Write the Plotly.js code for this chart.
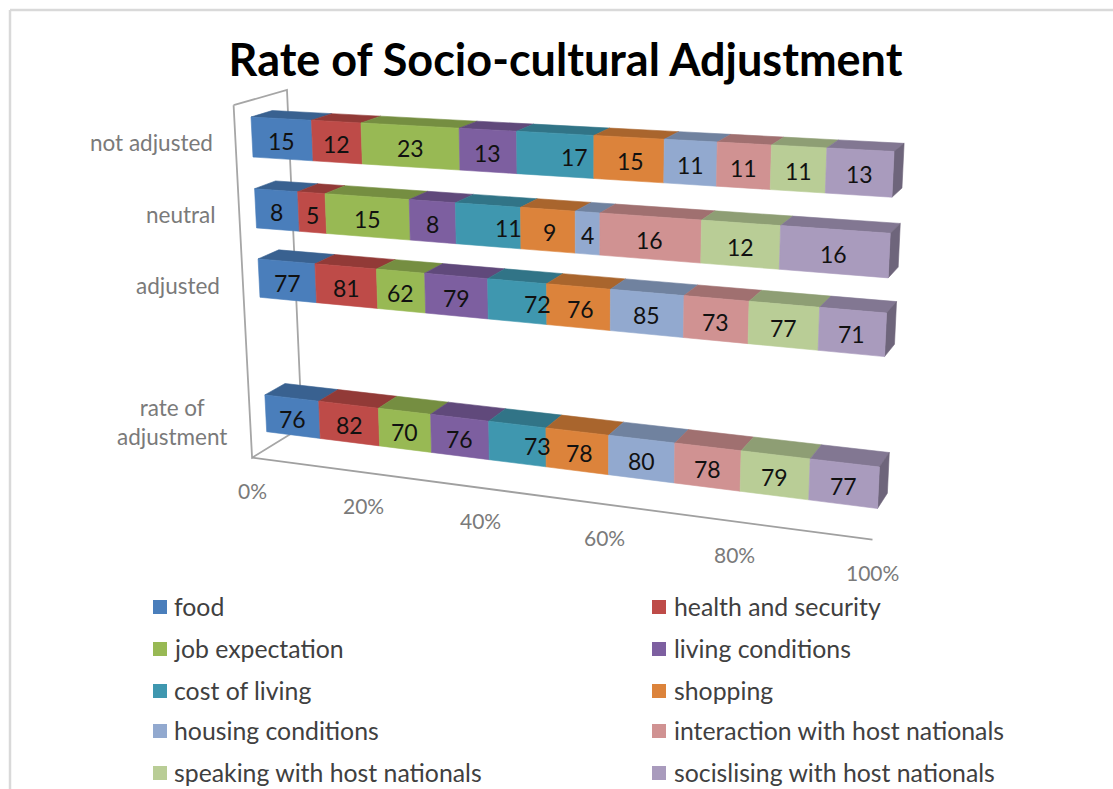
<!DOCTYPE html>
<html><head><meta charset="utf-8">
<script src="https://cdn.plot.ly/plotly-3.0.1.min.js"></script>
<style>html,body{margin:0;padding:0;background:#fff}#c{width:1113px;height:789px}</style></head>
<body><div id="c"></div>
<script>
// ---- data ----
const rowNames=["rate of<br>adjustment","","adjusted","neutral","not adjusted"];
const seriesNames=["food","health and security","job expectation","living conditions","cost of living","shopping","housing conditions","interaction with host nationals","speaking with host nationals","socislising with host nationals"];
const food=[76,null,77,8,15];
const health=[82,null,81,5,12];
const job=[70,null,62,15,23];
const living=[76,null,79,8,13];
const cost=[73,null,72,11,17];
const shopping=[78,null,76,9,15];
const housing=[80,null,85,4,11];
const interaction=[78,null,73,16,11];
const speaking=[79,null,77,12,11];
const socialising=[77,null,71,16,13];
const allSeries=[food,health,job,living,cost,shopping,housing,interaction,speaking,socialising];
const colors=["#4A7EBB","#BE4B48","#98B954","#7D5FA0","#3F97AF","#DC833B","#92A9CF","#D09292","#B9CD96","#A99BBD"];
const ticks=[0,20,40,60,80,100];
// label offset of each series, as the original chart places them
const labelShiftX=[0,0,0,0,20,2,0,0,0,0];

// ---- 3D view: (u share 0..1, t height 0..1, d depth) -> page position ----
const O=[266.7,431.7],U=[877.5,508.5],T=[251,117],D=[286.7,419.7];
const a=-0.123,b=-0.047,c=0.0189;
function proj(u,t,d){
  const w=1+a*u+b*t+c*d;
  return [0,1].map(n=>(O[n]+u*(U[n]*(1+a)-O[n])+t*(T[n]*(1+b)-O[n])+d*(D[n]*(1+c)-O[n]))/w);
}
const pitch=0.2195,barH=0.122;
const floorT=-0.055,topT=1.05,nearD=-0.75,farD=1.75,floorU=1.005;

function shade(hex,f){const n=parseInt(hex.slice(1),16);const v=[n>>16,(n>>8)&255,n&255].map(x=>Math.round(x*f));return `rgb(${v[0]},${v[1]},${v[2]})`;}
function poly(pts,bag){pts.forEach(p=>{bag.x.push(p[0]);bag.y.push(p[1]);});bag.x.push(pts[0][0],null);bag.y.push(pts[0][1],null);}

const traces=[],ann=[],shp=[];
const fill=(bag,col,name)=>({type:"scatter",mode:"lines",x:bag.x,y:bag.y,fill:"toself",fillcolor:col,line:{width:0.6,color:col},hoverinfo:"skip",showlegend:false,name});

// walls + floor
const wall=[[0,topT,nearD],[0,topT,farD],[0,floorT,farD],[0,floorT,nearD],[0,topT,nearD]].map(p=>proj(...p));
traces.push({type:"scatter",mode:"lines",x:wall.map(p=>p[0]),y:wall.map(p=>p[1]),line:{color:"#a6a6a6",width:1.8},hoverinfo:"skip",showlegend:false});
const fl=[[0,floorT,nearD],[floorU,floorT,nearD]].map(p=>proj(...p));
traces.push({type:"scatter",mode:"lines",x:fl.map(p=>p[0]),y:fl.map(p=>p[1]),line:{color:"#a0a0a0",width:1.8},hoverinfo:"skip",showlegend:false});

const totals=rowNames.map((_,r)=>allSeries.reduce((s,arr)=>s+(arr[r]||0),0));
allSeries.forEach((arr,si)=>{
  const front={x:[],y:[]},top={x:[],y:[]},side={x:[],y:[]};
  arr.forEach((val,r)=>{
    if(val===null)return;
    let before=0;for(let k=0;k<si;k++)before+=allSeries[k][r];
    const u0=before/totals[r],u1=(before+val)/totals[r];
    const t0=r*pitch,t1=t0+barH;
    poly([proj(u0,t0,0),proj(u1,t0,0),proj(u1,t1,0),proj(u0,t1,0)],front);
    poly([proj(u0,t1,0),proj(u1,t1,0),proj(u1,t1,1),proj(u0,t1,1)],top);
    if(si===allSeries.length-1)poly([proj(1,t0,0),proj(1,t1,0),proj(1,t1,1),proj(1,t0,1)],side);
    const m=proj((u0+u1)/2,(t0+t1)/2,0);
    ann.push({xref:"x",yref:"y",x:m[0],y:m[1],xshift:labelShiftX[si],yshift:-2,text:String(val),showarrow:false,font:{family:"Lato",size:23,color:"#111"}});
  });
  traces.push(fill(top,shade(colors[si],0.77),seriesNames[si]+" top"));
  if(side.x.length)traces.push(fill(side,shade(colors[si],0.65),seriesNames[si]+" end"));
  traces.push(fill(front,colors[si],seriesNames[si]));
});

// axis labels
ticks.forEach(v=>{const p=proj(v/100*floorU,floorT,nearD);
  ann.push({xref:"x",yref:"y",x:p[0],y:p[1],yshift:-33,text:v+"%",showarrow:false,font:{family:"Lato",size:21,color:"#7a7a7a"}});});
rowNames.forEach((n,r)=>{if(!n)return;const p=proj(0,r*pitch+barH/2,nearD);
  ann.push({xref:"x",yref:"y",x:p[0],y:p[1],xshift:-21,xanchor:"right",align:"center",text:n,showarrow:false,font:{family:"Lato",size:22.5,color:"#7a7a7a"}});});

// legend
const colsX=[153,652],textX=[172,672],rowY=[606,648,690,730,772];
seriesNames.forEach((n,i)=>{
  const cx=colsX[i%2],cy=rowY[Math.floor(i/2)];
  shp.push({type:"rect",xref:"x",yref:"y",x0:cx,x1:cx+14,y0:cy-6,y1:cy+8,fillcolor:colors[i],line:{width:0}});
  ann.push({xref:"x",yref:"y",x:textX[i%2],y:cy,text:n,showarrow:false,xanchor:"left",yanchor:"middle",font:{family:"Lato",size:24.8,color:"#404040"}});
});
// chart frame
shp.push({type:"line",xref:"x",yref:"y",x0:10,x1:1113,y0:10,y1:10,line:{color:"#d9d9d9",width:2.5}});
shp.push({type:"line",xref:"x",yref:"y",x0:10,x1:10,y0:10,y1:789,line:{color:"#d9d9d9",width:2.5}});

const hide={visible:false,fixedrange:true};
Plotly.newPlot("c",traces,{
  width:1113,height:789,paper_bgcolor:"#fff",plot_bgcolor:"#fff",showlegend:false,margin:{l:0,r:0,t:0,b:0},
  xaxis:{...hide,range:[0,1113]},yaxis:{...hide,range:[789,0]},
  title:{text:"<b>Rate of Socio-cultural Adjustment</b>",x:565.5/1113,xanchor:"center",y:1-60/789,yanchor:"middle",font:{family:"Lato",size:45,color:"#000"}},
  shapes:shp,annotations:ann
},{staticPlot:true});
</script></body></html>
